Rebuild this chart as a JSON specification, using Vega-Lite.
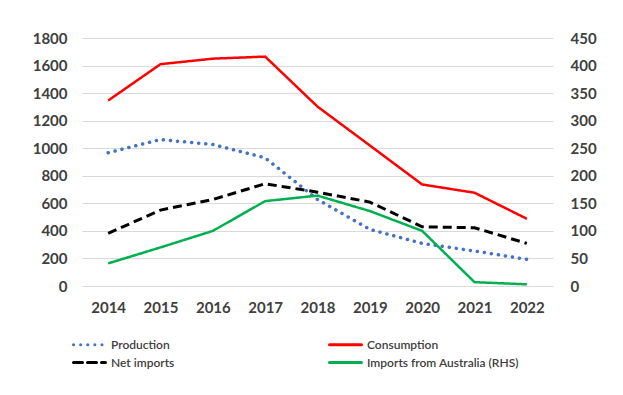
{
  "$schema": "https://vega.github.io/schema/vega-lite/v6.json",
  "autosize": {"type": "none"},
  "width": 471,
  "height": 248,
  "padding": {"left": 82, "top": 38, "right": 70, "bottom": 109},
  "background": "white",
  "config": {
    "view": {"stroke": null},
    "font": "Lato",
    "axis": {
      "labelFont": "Lato",
      "labelFontSize": 15,
      "labelFontWeight": "bold",
      "labelColor": "#404040",
      "domain": false,
      "ticks": false,
      "title": null
    }
  },
  "data": {
    "values": [
      {"year": "2014", "series": "Production", "value": 967},
      {"year": "2015", "series": "Production", "value": 1063},
      {"year": "2016", "series": "Production", "value": 1027},
      {"year": "2017", "series": "Production", "value": 930},
      {"year": "2018", "series": "Production", "value": 628},
      {"year": "2019", "series": "Production", "value": 411},
      {"year": "2020", "series": "Production", "value": 309},
      {"year": "2021", "series": "Production", "value": 254},
      {"year": "2022", "series": "Production", "value": 193},
      {"year": "2014", "series": "Consumption", "value": 1346},
      {"year": "2015", "series": "Consumption", "value": 1610},
      {"year": "2016", "series": "Consumption", "value": 1650},
      {"year": "2017", "series": "Consumption", "value": 1665},
      {"year": "2018", "series": "Consumption", "value": 1302},
      {"year": "2019", "series": "Consumption", "value": 1020},
      {"year": "2020", "series": "Consumption", "value": 737},
      {"year": "2021", "series": "Consumption", "value": 677},
      {"year": "2022", "series": "Consumption", "value": 488},
      {"year": "2014", "series": "Net imports", "value": 382},
      {"year": "2015", "series": "Net imports", "value": 551},
      {"year": "2016", "series": "Net imports", "value": 628},
      {"year": "2017", "series": "Net imports", "value": 742},
      {"year": "2018", "series": "Net imports", "value": 681},
      {"year": "2019", "series": "Net imports", "value": 609},
      {"year": "2020", "series": "Net imports", "value": 430},
      {"year": "2021", "series": "Net imports", "value": 423},
      {"year": "2022", "series": "Net imports", "value": 309},
      {"year": "2014", "series": "Imports from Australia (RHS)", "value": 41},
      {"year": "2015", "series": "Imports from Australia (RHS)", "value": 70},
      {"year": "2016", "series": "Imports from Australia (RHS)", "value": 100},
      {"year": "2017", "series": "Imports from Australia (RHS)", "value": 154},
      {"year": "2018", "series": "Imports from Australia (RHS)", "value": 164},
      {"year": "2019", "series": "Imports from Australia (RHS)", "value": 136},
      {"year": "2020", "series": "Imports from Australia (RHS)", "value": 100},
      {"year": "2021", "series": "Imports from Australia (RHS)", "value": 7},
      {"year": "2022", "series": "Imports from Australia (RHS)", "value": 3}
    ]
  },
  "encoding": {
    "x": {
      "field": "year",
      "type": "ordinal",
      "scale": {"type": "point", "padding": 0.5},
      "axis": {"labelAngle": 0, "labelPadding": 14, "grid": false}
    },
    "color": {
      "field": "series",
      "type": "nominal",
      "scale": {
        "domain": ["Production", "Net imports", "Consumption", "Imports from Australia (RHS)"],
        "range": ["#4472c4", "#000000", "#ff0000", "#00b050"]
      },
      "legend": {
        "title": null,
        "orient": "none",
        "legendX": -4,
        "legendY": 295,
        "columns": 2,
        "columnPadding": 148,
        "rowPadding": 0,
        "symbolType": "M-1.6,0L1.6,0",
        "symbolSize": 400,
        "symbolStrokeWidth": 3,
        "labelFont": "Lato",
        "labelFontSize": 12,
        "labelFontWeight": 600,
        "labelColor": "#404040",
        "labelOffset": 10,
        "encode": {"symbols": {"update": {"strokeCap": {"value": "round"}}}}
      }
    },
    "strokeDash": {
      "field": "series",
      "type": "nominal",
      "scale": {
        "domain": ["Production", "Net imports", "Consumption", "Imports from Australia (RHS)"],
        "range": [[0.1, 7], [9, 5], [1, 0], [1, 0]]
      },
      "legend": null
    }
  },
  "layer": [
    {
      "encoding": {
        "y": {
          "field": "value",
          "type": "quantitative",
          "scale": {"domain": [0, 1800], "nice": false},
          "axis": {
            "values": [0, 200, 400, 600, 800, 1000, 1200, 1400, 1600, 1800],
            "format": "d",
            "grid": true,
            "gridColor": "#d9d9d9",
            "gridWidth": 1,
            "labelPadding": 15
          }
        }
      },
      "layer": [
        {
          "transform": [{"filter": "datum.series === 'Production'"}],
          "mark": {"type": "line", "strokeWidth": 3.5, "strokeCap": "round"}
        },
        {
          "transform": [{"filter": "datum.series === 'Consumption'"}],
          "mark": {"type": "line", "strokeWidth": 2.5}
        },
        {
          "transform": [{"filter": "datum.series === 'Net imports'"}],
          "mark": {"type": "line", "strokeWidth": 3, "strokeCap": "butt"}
        }
      ]
    },
    {
      "transform": [{"filter": "datum.series === 'Imports from Australia (RHS)'"}],
      "mark": {"type": "line", "strokeWidth": 2.5},
      "encoding": {
        "y": {
          "field": "value",
          "type": "quantitative",
          "scale": {"domain": [0, 450], "nice": false},
          "axis": {
            "orient": "right",
            "values": [0, 50, 100, 150, 200, 250, 300, 350, 400, 450],
            "format": "d",
            "grid": false,
            "labelPadding": 17
          }
        }
      }
    }
  ],
  "resolve": {"scale": {"y": "independent"}}
}
